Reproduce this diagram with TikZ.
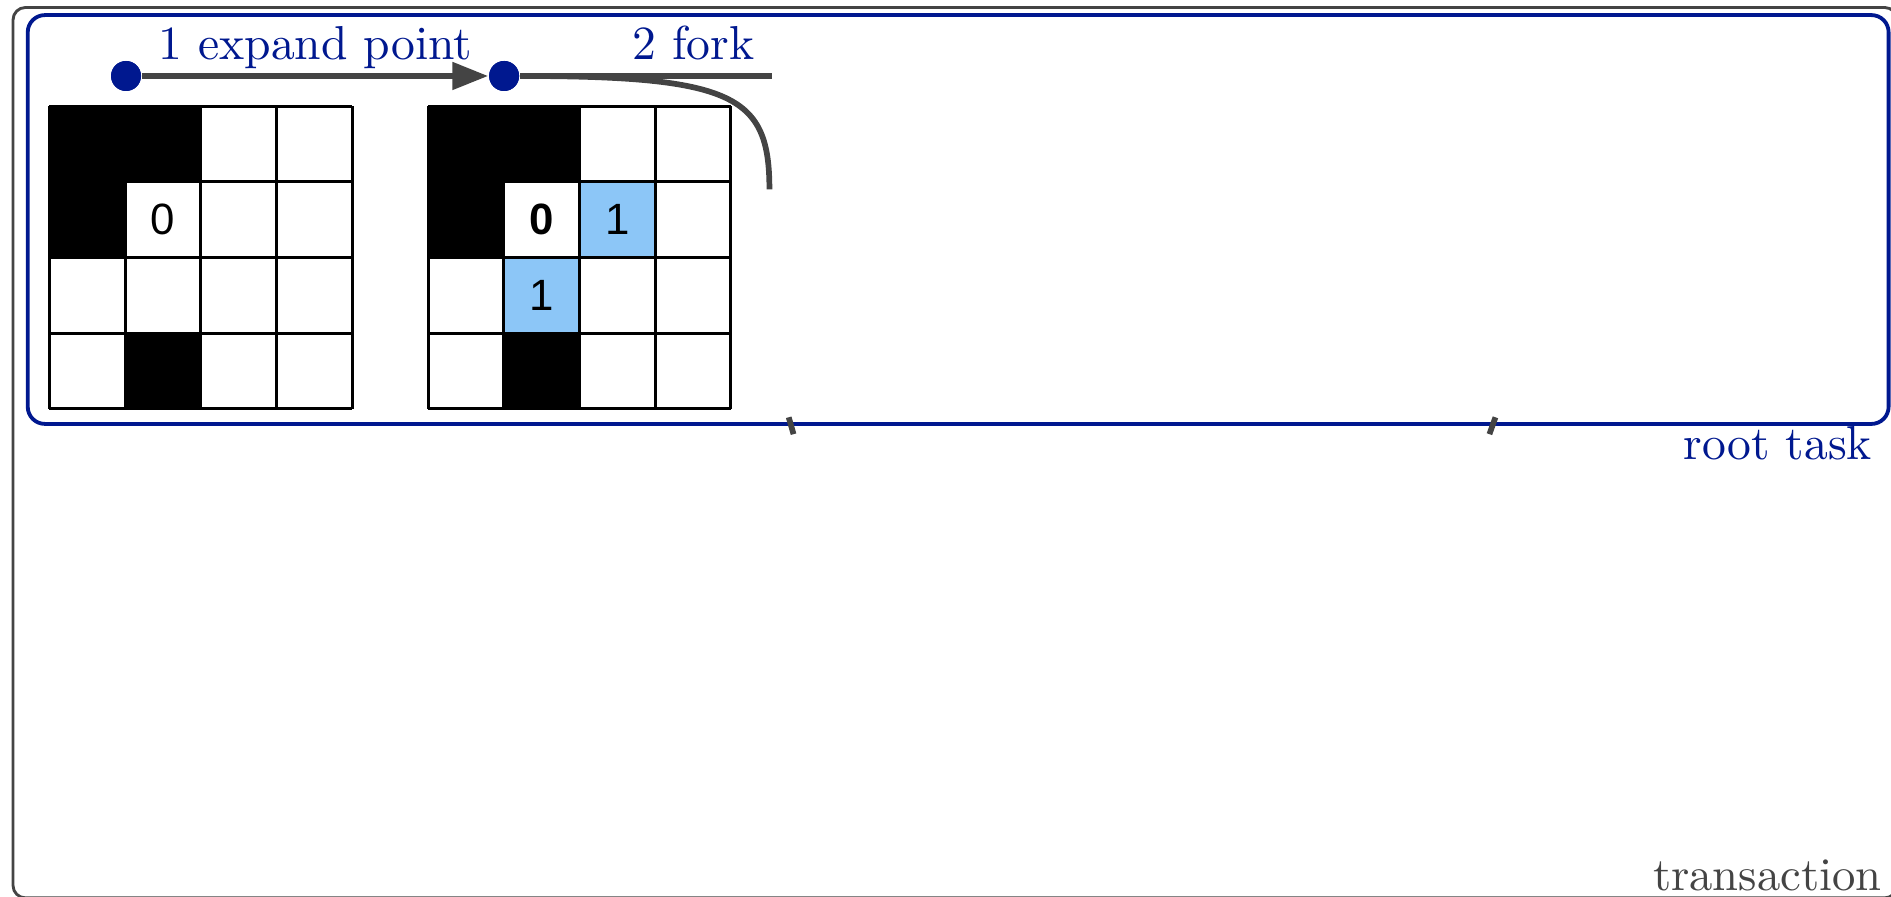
\documentclass[tikz,border=0pt]{standalone}
\usepackage{fontspec}
\newfontfamily\cellfont{Liberation Sans}
\usetikzlibrary{arrows.meta}
\definecolor{dblue}{RGB}{0,24,143}
\definecolor{lblue}{RGB}{140,198,247}
\definecolor{dgray}{RGB}{68,68,68}
\tikzset{
  graybox/.style={draw=dgray, line width=0.6pt, rounded corners=2.6pt},
  bluebox/.style={draw=dblue, line width=0.8pt, rounded corners=3.6pt},
  dot/.style={circle, fill=dblue, inner sep=0pt, minimum size=6.3pt},
  conn/.style={draw=dgray, line width=1.2pt},
  arr/.style={conn, -{Triangle[length=7.5pt,width=5.6pt]}},
  lbl/.style={text=dblue, inner sep=0pt, font=\fontsize{10}{12}\selectfont},
  cellnum/.style={inner sep=0pt, font=\cellfont\fontsize{9.2}{10}\selectfont},
  gridline/.style={draw=black, line width=0.6pt},
}
\begin{document}
\begin{tikzpicture}[x=0.2532pt, y=-0.2532pt]
\useasboundingbox (0,0) rectangle (1568,743);
\clip (0,0) rectangle (1568,743);
% outer transaction box
\path[graybox] (10.8,6.2) rectangle (1573,744.5);
\node[anchor=base east, inner sep=0pt, text=dgray, font=\fontsize{9.8}{12}\selectfont] (trl) at (1561,738) {transaction};
% root task box
\path[bluebox] (23,12.5) rectangle (1566,351.5);
\node[lbl, anchor=base east] (rtl) at (1553,381) {root task};
% grids
\def\cs{62.75}
\foreach \gx in {41,355}{
  \foreach \c/\r in {0/0,1/0,0/1,1/3}{
    \fill[black] (\gx+\c*\cs,88+\r*\cs) rectangle ++(\cs,\cs);
  }
}
\foreach \c/\r in {2/1,1/2}{
  \fill[lblue] (355+\c*\cs,88+\r*\cs) rectangle ++(\cs,\cs);
}
\foreach \gx in {41,355}{
  \foreach \i in {0,...,4}{
    \draw[gridline] (\gx+\i*\cs,88) -- (\gx+\i*\cs,88+4*\cs);
    \draw[gridline] (\gx,88+\i*\cs) -- (\gx+4*\cs,88+\i*\cs);
  }
}
\node[cellnum] (a0) at (41+1.5*\cs,88+1.5*\cs) {0};
\node[cellnum, font=\cellfont\bfseries\fontsize{9.2}{10}\selectfont] (b0) at (355+1.5*\cs,88+1.5*\cs) {0};
\node[cellnum] (b1) at (355+2.5*\cs,88+1.5*\cs) {1};
\node[cellnum] (b2) at (355+1.5*\cs,88+2.5*\cs) {1};
% points and connectors
\node[dot] (p1) at (104.5,63) {};
\node[dot] (p2) at (418,63) {};
\coordinate (f1) at (640,63);
\coordinate (f2) at (638,157);
\draw[arr] (p1) -- (p2);
\draw[conn] (p2) -- (f1);
\draw[conn] (p2.east) .. controls (610,63) and (638,80) .. (f2);
\node[dot] at (p1) {};
\node[dot] at (p2) {};
% clipped fragments crossing the root task border
\coordinate (t1a) at (654,346);
\coordinate (t1b) at (658,360);
\coordinate (t2a) at (1240,346);
\coordinate (t2b) at (1235,360);
\draw[conn] (t1a) -- (t1b);
\draw[conn] (t2a) -- (t2b);
% labels
\node[lbl, anchor=base] (l1) at (261.5,49) {1 expand point};
\node[lbl, anchor=base] (l2) at (575,49) {2 fork};
\end{tikzpicture}
\end{document}
